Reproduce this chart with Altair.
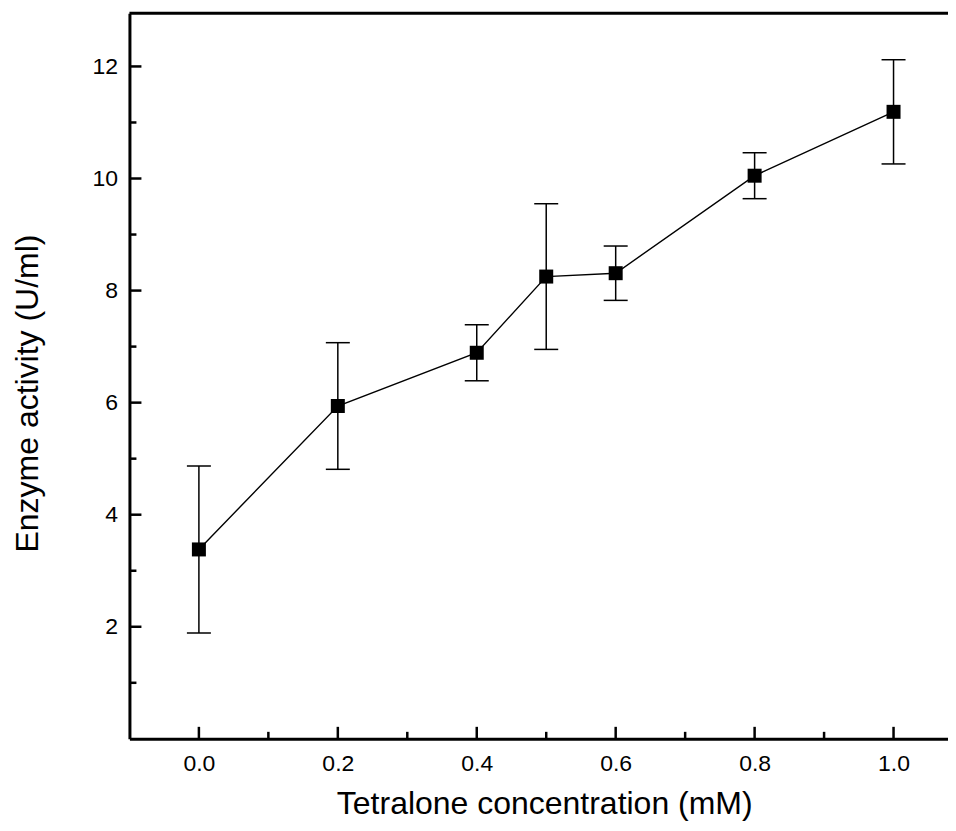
import altair as alt
import pandas as pd

# Data
conc = [0.0, 0.2, 0.4, 0.5, 0.6, 0.8, 1.0]
activity = [3.38, 5.94, 6.89, 8.25, 8.31, 10.05, 11.19]
err = [1.49, 1.13, 0.50, 1.30, 0.485, 0.41, 0.93]

x_major = [0.0, 0.2, 0.4, 0.6, 0.8, 1.0]
x_minor = [0.1, 0.3, 0.5, 0.7, 0.9]
y_major = [2, 4, 6, 8, 10, 12]
y_minor = [1, 3, 5, 7, 9, 11]

W, H = 819, 726
FONT = "Liberation Sans"

df = pd.DataFrame({"x": conc, "y": activity})
df["lo"] = [a - e for a, e in zip(activity, err)]
df["hi"] = [a + e for a, e in zip(activity, err)]

xscale = alt.Scale(domain=[-0.1, 1.0784], nice=False, zero=False)
yscale = alt.Scale(domain=[0, 12.95], nice=False, zero=False)

xaxis = alt.Axis(
    values=x_major, format=".1f", title="Tetralone concentration (mM)",
    labelPadding=14,
    titleX=415, titleY=75, titleAlign="center", titleBaseline="alphabetic",
)
yaxis = alt.Axis(
    values=y_major, format="d", title="Enzyme activity (U/ml)",
    labelPadding=12,
    titleX=-92, titleY=380, titleAlign="center", titleBaseline="alphabetic",
    titleAngle=270,
)

X = lambda f: alt.X(f, scale=xscale, axis=xaxis)
Y = lambda f: alt.Y(f, scale=yscale, axis=yaxis)

base = alt.Chart(df)

line = base.mark_line(color="black", strokeWidth=1.4).encode(x=X("x:Q"), y=Y("y:Q"))
bars = base.mark_rule(color="black", strokeWidth=1.5).encode(x=X("x:Q"), y=Y("lo:Q"), y2="hi:Q")
cap_hi = base.mark_tick(orient="horizontal", size=24, thickness=1.5, color="black", opacity=1).encode(
    x=X("x:Q"), y=Y("hi:Q"))
cap_lo = base.mark_tick(orient="horizontal", size=24, thickness=1.5, color="black", opacity=1).encode(
    x=X("x:Q"), y=Y("lo:Q"))
pts = base.mark_point(shape="square", size=196, filled=True, color="black", opacity=1).encode(
    x=X("x:Q"), y=Y("y:Q"))

def xticks(vals, length):
    return alt.Chart(pd.DataFrame({"x": vals})).mark_rule(color="black", strokeWidth=2.5).encode(
        x=X("x:Q"), y=alt.value(H), y2=alt.value(H - length))

def yticks(vals, length):
    return alt.Chart(pd.DataFrame({"y": vals})).mark_rule(color="black", strokeWidth=2.5).encode(
        y=Y("y:Q"), x=alt.value(0), x2=alt.value(length))

border = alt.Chart(pd.DataFrame({"a": [0]})).mark_rule(color="black", strokeWidth=3).encode(
    x=alt.value(0), x2=alt.value(W), y=alt.value(0))

chart = alt.layer(
    line, bars, cap_hi, cap_lo, pts,
    xticks(x_major, 12), xticks(x_minor, 7),
    yticks(y_major, 12), yticks(y_minor, 7),
    border,
).properties(
    width=W, height=H,
    autosize=alt.AutoSizeParams(type="none"),
    padding={"left": 121.5, "top": 5, "right": 0, "bottom": 84},
    background="white",
).configure_view(stroke=None).configure_axis(
    ticks=False, tickSize=0, grid=False, domainWidth=3, domainColor="black",
    labelFont=FONT, labelFontSize=23, labelFontWeight="normal", labelColor="black", labelFlush=False,
    titleFont=FONT, titleFontSize=32, titleFontWeight="normal", titleColor="black",
)

chart.save("out.html", embed_options={"renderer": "svg", "actions": False})
